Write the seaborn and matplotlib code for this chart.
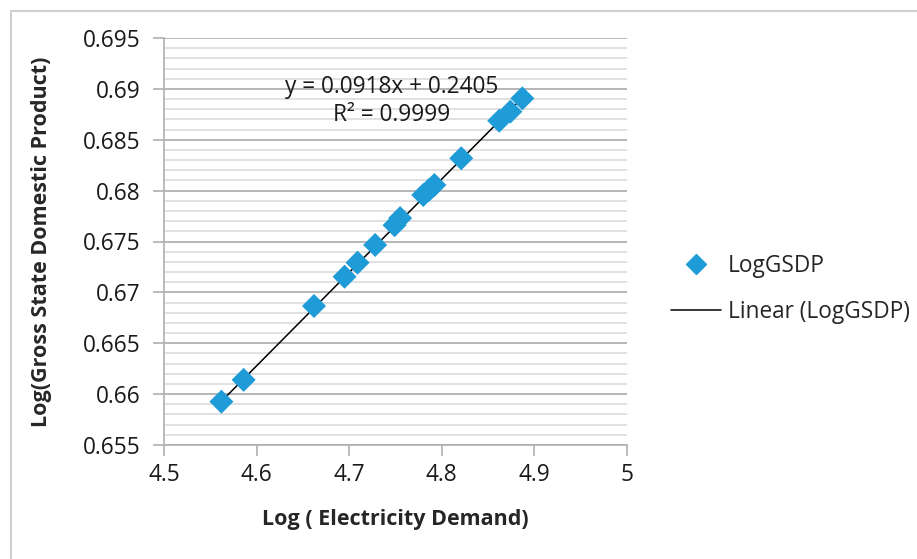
import matplotlib
matplotlib.use("Agg")
import matplotlib.pyplot as plt
import numpy as np
import pandas as pd
import seaborn as sns
from matplotlib.lines import Line2D
from matplotlib.patches import Rectangle

# values
log_demand = [4.562, 4.586, 4.662, 4.695, 4.709, 4.728, 4.749, 4.755,
              4.780, 4.786, 4.792, 4.821, 4.862, 4.874, 4.887]
log_gsdp = [0.65926, 0.66140, 0.66866, 0.67154, 0.67292, 0.67466, 0.67660, 0.67730,
            0.67957, 0.68005, 0.68055, 0.68318, 0.68687, 0.68776, 0.68907]
slope, intercept = 0.0918, 0.2405
x_ticks = [4.5, 4.6, 4.7, 4.8, 4.9, 5.0]
x_ticklabels = ["4.5", "4.6", "4.7", "4.8", "4.9", "5"]
y_ticks = [0.655, 0.66, 0.665, 0.67, 0.675, 0.68, 0.685, 0.69, 0.695]
y_ticklabels = ["0.655", "0.66", "0.665", "0.67", "0.675", "0.68", "0.685", "0.69", "0.695"]

df = pd.DataFrame({"LogDemand": log_demand, "LogGSDP": log_gsdp})
x_fit = np.array([min(log_demand), max(log_demand)])
fit_df = pd.DataFrame({"x": x_fit, "y": slope * x_fit + intercept})

sns.set_theme(style="white")
plt.rcParams["font.family"] = ["Open Sans", "DejaVu Sans"]

W, H = 917, 559
fs = 16.3
fig = plt.figure(figsize=(W / 100, H / 100), dpi=100)
fig.patches.append(Rectangle((11 / W, -0.1), 1.2, 1 - 11 / H + 0.1, transform=fig.transFigure,
                             fill=False, edgecolor="#d0d0d0", linewidth=1.5))

ax = fig.add_axes([164 / W, (H - 445) / H, 463 / W, 407 / H])
blue = "#1f9bd7"
grey = "#b0b0b0"

# minor and major horizontal grid lines
for v in np.arange(0.655, 0.6951, 0.001):
    ax.axhline(v, color="#dcdcdc", linewidth=1.2, zorder=0)
for v in y_ticks:
    ax.axhline(v, color=grey, linewidth=1.2, zorder=0)

sns.lineplot(data=fit_df, x="x", y="y", ax=ax, color="black", linewidth=1.1, zorder=2)
sns.scatterplot(data=df, x="LogDemand", y="LogGSDP", ax=ax, marker="D", s=150,
                color=blue, edgecolor="none", zorder=3)

ax.set_xlim(4.5, 5.0)
ax.set_ylim(0.655, 0.695)
ax.set_xticks(x_ticks, x_ticklabels)
ax.set_yticks(y_ticks, y_ticklabels)
ax.tick_params(axis="both", which="major", length=8, width=1.2, color=grey,
               labelsize=fs, labelcolor="#1a1a1a", direction="out")
ax.tick_params(axis="x", bottom=True, pad=5)
ax.tick_params(axis="y", left=True, pad=9)
for side in ["top", "right"]:
    ax.spines[side].set_visible(False)
for side in ["left", "bottom"]:
    ax.spines[side].set_color(grey)
    ax.spines[side].set_linewidth(1.2)

ax.set_xlabel("Log ( Electricity Demand)", fontsize=15.5, fontweight="bold", labelpad=16)
ax.set_ylabel("Log(Gross State Domestic Product)", fontsize=15.5, fontweight="bold", labelpad=22)

ax.text(4.746, 0.6902, "y = 0.0918x + 0.2405", fontsize=fs, ha="center", va="center", color="#1a1a1a")
ax.text(4.746, 0.68745, "R² = 0.9999", fontsize=fs, ha="center", va="center", color="#1a1a1a")

handles = [
    Line2D([], [], marker="D", linestyle="none", color=blue, markersize=10.5),
    Line2D([], [], color="black", linewidth=1.1),
]
fig.legend(handles, ["LogGSDP", "Linear (LogGSDP)"], loc="center left",
           bbox_to_anchor=(660 / W, 1 - 289 / H), frameon=False, fontsize=fs,
           handlelength=2.2, labelspacing=1.0, handletextpad=0.3, borderpad=0)

fig.savefig("out.png", dpi=100)
